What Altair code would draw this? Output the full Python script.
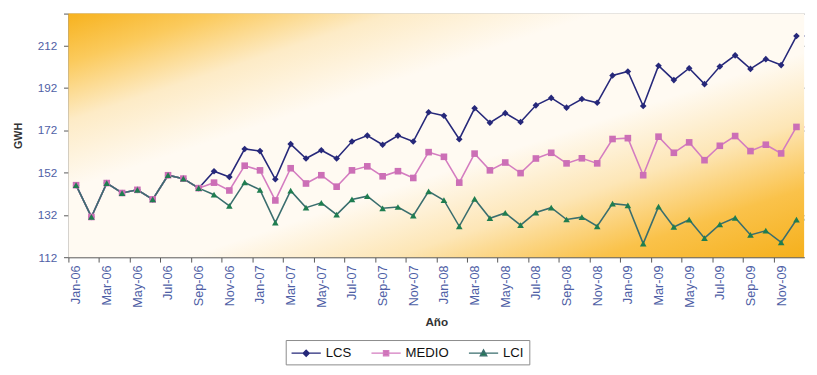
import altair as alt
import pandas as pd

# ---- data -------------------------------------------------------------
month_names = ["Jan", "Feb", "Mar", "Apr", "May", "Jun",
               "Jul", "Aug", "Sep", "Oct", "Nov", "Dec"]
years = ["06", "07", "08", "09"]
months = [f"{m}-{y}" for y in years for m in month_names]

series_names = ["LCS", "MEDIO", "LCI"]

lcs = [146, 131, 147, 142.3, 143.8, 139.3, 150.7, 149.1, 144.6, 152.6, 149.9, 163.1,
       162.1, 148.8, 165.4, 158.6, 162.5, 158.6, 166.6, 169.4, 165.1, 169.4, 166.6, 180.4,
       178.8, 167.7, 182.3, 175.5, 180.0, 175.8, 183.7, 187.2, 182.6, 186.7, 184.9, 197.8,
       199.7, 183.4, 202.4, 195.6, 201.2, 193.7, 202.0, 207.3, 200.9, 205.5, 202.7, 216.4]

medio = [146, 131, 147, 142.3, 143.8, 139.3, 150.7, 149.1, 144.6, 147.2, 143.5, 155.2,
         153.0, 138.8, 154.0, 146.8, 150.7, 145.3, 153.0, 154.9, 150.2, 152.6, 149.4, 161.6,
         159.4, 147.2, 160.9, 153.0, 156.7, 151.7, 158.6, 161.3, 156.3, 158.7, 156.3, 167.8,
         168.2, 150.7, 168.9, 161.3, 166.2, 157.8, 164.6, 169.2, 162.1, 165.1, 161.0, 173.5]

lci = [146, 131, 147, 142.3, 143.8, 139.3, 150.7, 149.1, 144.6, 141.5, 136.2, 147.3,
       143.8, 128.3, 143.4, 135.4, 137.7, 132.1, 139.3, 140.8, 135.1, 135.7, 131.6, 143.1,
       138.9, 126.6, 139.5, 130.4, 132.9, 127.1, 133.1, 135.4, 129.8, 130.9, 126.6, 137.3,
       136.5, 118.4, 135.9, 126.3, 129.7, 121.0, 127.5, 130.6, 122.5, 124.5, 119.0, 129.7]

y_ticks = [112, 132, 152, 172, 192, 212, 227]

# ---- styles -----------------------------------------------------------
W, H = 755, 250
step = W / len(months)
FONT = "Liberation Sans"
LABEL_COLOR = "#4f5fa6"

line_colors = ["#26287a", "#d47cc0", "#3a6e6e"]
marker_colors = ["#26287a", "#cc6fb6", "#1f7d50"]
marker_shapes = ["diamond", "square", "triangle-up"]
# legend glyphs: a line segment with the marker in its middle
legend_shapes = [
    "M-1,0L3,0M1,-0.42L1.42,0L1,0.42L0.58,0Z",
    "M-1,0L3,0M0.64,-0.36L1.36,-0.36L1.36,0.36L0.64,0.36Z",
    "M-1,0L3,0M1,-0.45L1.45,0.36L0.55,0.36Z",
]

rows = []
for name, vals in zip(series_names, [lcs, medio, lci]):
    for m, v in zip(months, vals):
        rows.append({"mes": m, "serie": name, "gwh": v})
df = pd.DataFrame(rows)

x_enc = alt.X(
    "mes:O",
    sort=months,
    bandPosition=0.5,
    scale=alt.Scale(type="band", paddingInner=0, paddingOuter=0),
    axis=alt.Axis(
        title="Año",
        values=months[::2],
        labelAngle=270,
        labelFontSize=13,
        labelColor=LABEL_COLOR,
        labelPadding=3,
        tickOffset=-step / 2,
        labelOffset=step / 2,
        tickSize=5,
        tickColor="#555",
        domainColor="#555",
        grid=False,
        titleFontSize=12,
        titleFontWeight="bold",
        titleColor="#333",
        titlePadding=10,
    ),
)
y_enc = alt.Y(
    "gwh:Q",
    scale=alt.Scale(domain=[112, 227], nice=False, zero=False),
    axis=alt.Axis(
        title="GWH",
        values=y_ticks,
        labelExpr="datum.value == 227 ? '' : datum.label",
        labelFontSize=12,
        labelColor=LABEL_COLOR,
        labelPadding=7,
        tickSize=5,
        tickColor="#555",
        domainColor="#555",
        grid=True,
        gridColor="#8a8a8a",
        gridWidth=1,
        titleFontSize=11,
        titleFontWeight="bold",
        titleColor="#333",
        titlePadding=14,
    ),
)

gradient = alt.LinearGradient(
    gradient="linear",
    x1=0, y1=0, x2=1, y2=1,
    stops=[
        alt.GradientStop(offset=0.0, color="#f7b21e"),
        alt.GradientStop(offset=0.1, color="#fbca5c"),
        alt.GradientStop(offset=0.22, color="#fdebc6"),
        alt.GradientStop(offset=0.36, color="#fffaf2"),
        alt.GradientStop(offset=0.58, color="#fffaf2"),
        alt.GradientStop(offset=0.72, color="#fde6b6"),
        alt.GradientStop(offset=0.86, color="#fac24a"),
        alt.GradientStop(offset=1.0, color="#f5b01c"),
    ],
)

bg = alt.Chart(pd.DataFrame({"a": [0]})).mark_rect(fill=gradient).encode(
    x=alt.value(0), x2=alt.value(W), y=alt.value(0), y2=alt.value(H)
)

base = alt.Chart(df)

lines = base.mark_line(strokeWidth=1.6).encode(
    x=x_enc,
    y=y_enc,
    color=alt.Color("serie:N", scale=alt.Scale(domain=series_names, range=line_colors), legend=None),
    detail="serie:N",
)

point_layers = []
for name, col, shp in zip(series_names, marker_colors, marker_shapes):
    point_layers.append(
        base.transform_filter(alt.datum.serie == name)
        .mark_point(filled=True, size=46, opacity=1, fill=col, shape=shp, strokeWidth=0)
        .encode(x=x_enc, y=y_enc)
    )

leg = alt.Legend(
    title=None,
    orient="none",
    direction="horizontal",
    legendX=223,
    legendY=335,
    symbolSize=225,
    symbolStrokeWidth=1.3,
    symbolOpacity=1,
    labelFont=FONT,
    labelFontSize=13.5,
    labelColor="#111",
    labelOffset=19,
    columnPadding=17,
    padding=5,
    strokeColor="#8a8a8a",
    fillColor="#ffffff",
)

# carrier of the legend; its own marks sit under the opaque background
legend_layer = base.mark_point(filled=True).encode(
    x=x_enc,
    y=y_enc,
    fill=alt.Fill("serie:N", scale=alt.Scale(domain=series_names, range=marker_colors), legend=leg),
    stroke=alt.Stroke("serie:N", scale=alt.Scale(domain=series_names, range=line_colors), legend=leg),
    shape=alt.Shape("serie:N", scale=alt.Scale(domain=series_names, range=legend_shapes), legend=leg),
)

chart = (
    alt.layer(legend_layer, bg, lines, *point_layers)
    .properties(width=W, height=H, padding={"left": 4, "top": 0, "right": 0, "bottom": 0})
    .configure(font=FONT)
    .configure_view(stroke=None)
)

chart.save("out.html", embed_options={"renderer": "svg", "actions": False})
